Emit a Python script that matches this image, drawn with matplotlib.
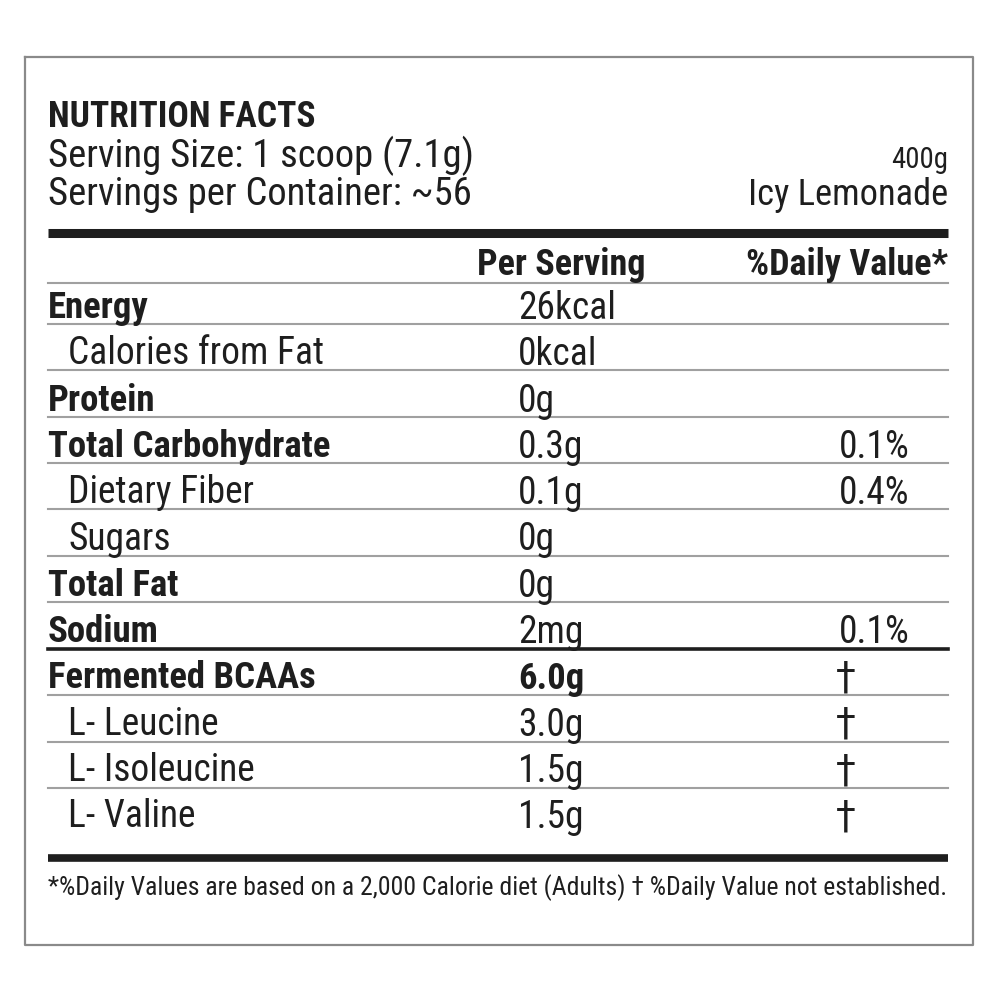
"""Nutrition facts label redrawn with matplotlib text and lines."""
import matplotlib
matplotlib.use("Agg")
import matplotlib.pyplot as plt
from matplotlib import font_manager

# --- Data ---
TITLE = "NUTRITION FACTS"
SERVING_SIZE = "Serving Size: 1 scoop (7.1g)"
SERVINGS_PER = "Servings per Container: ~56"
PACK_SIZE = "400g"
FLAVOUR = "Icy Lemonade"
COL_HEADERS = ["Per Serving", "%Daily Value*"]

nutrients = ["Energy", "Calories from Fat", "Protein", "Total Carbohydrate",
             "Dietary Fiber", "Sugars", "Total Fat", "Sodium",
             "Fermented BCAAs", "L- Leucine", "L- Isoleucine", "L- Valine"]
per_serving = ["26kcal", "0kcal", "0g", "0.3g", "0.1g", "0g", "0g", "2mg",
               "6.0g", "3.0g", "1.5g", "1.5g"]
daily_value = ["", "", "", "0.1%", "0.4%", "", "", "0.1%",
               "\u2020", "\u2020", "\u2020", "\u2020"]
is_bold = [True, False, True, True, False, False, True, True,
           True, False, False, False]
is_indent = [False, True, False, False, True, True, False, False,
             False, True, True, True]

FOOTNOTE = ("*%Daily Values are based on a 2,000 Calorie diet (Adults) "
            "\u2020 %Daily Value not established.")

# --- Font: a condensed sans if one is installed ---
fonts = font_manager.fontManager.ttflist
names = {f.name for f in fonts}
STRETCH = "normal"
if "Roboto Condensed" in names:
    FONT = "Roboto Condensed"
elif "Liberation Sans Narrow" in names:
    FONT = "Liberation Sans Narrow"
elif any(f.name == "DejaVu Sans" and f.stretch == "condensed" for f in fonts):
    FONT, STRETCH = "DejaVu Sans", "condensed"
else:
    FONT = "Roboto"
plt.rcParams["font.family"] = [FONT, "DejaVu Sans"]
plt.rcParams["font.stretch"] = STRETCH

# --- Layout (pixel coords, y down) ---
X0, X1 = 48, 948
VAL_X = 518
DV_X = 874
DAGGER_X = 846
ROW0 = 318
ROW_STEP = 46.3
DARK = "#1e1e1e"
GREY = "#a0a0a0"

fig = plt.figure(figsize=(10, 10), dpi=100)
ax = fig.add_axes([0, 0, 1, 1])
ax.set_xlim(0, 1000)
ax.set_ylim(1000, 0)
ax.axis("off")
renderer = fig.canvas.get_renderer()


def fit_size(s, width, max_size, weight="normal"):
    """Font size that makes s about `width` px wide, capped by max_size."""
    t = ax.text(0, 0, s, fontsize=20, fontweight=weight)
    w = t.get_window_extent(renderer).width
    t.remove()
    return min(20 * width / w, max_size)


# outer border
ax.plot([25, 973, 973, 25, 25], [57, 57, 945, 945, 57], color="#8a8a8a", lw=1.6)

ax.text(X0, 127, TITLE, fontsize=fit_size(TITLE, 268, 28, "bold"),
        fontweight="bold", color=DARK, va="baseline")
head_size = fit_size(SERVING_SIZE, 425, 28)
ax.text(X0, 167, SERVING_SIZE, fontsize=head_size, color=DARK, va="baseline")
ax.text(X0, 205, SERVINGS_PER, fontsize=head_size, color=DARK, va="baseline")
ax.text(X1, 168, PACK_SIZE, fontsize=fit_size(PACK_SIZE, 57, 23), color=DARK,
        va="baseline", ha="right")
ax.text(X1, 205, FLAVOUR, fontsize=fit_size(FLAVOUR, 200, 28), color=DARK,
        va="baseline", ha="right")

ax.plot([X0, X1], [233, 233], color=DARK, lw=6.5, solid_capstyle="butt")

col_size = fit_size(COL_HEADERS[1], 208, 26, "bold")
ax.text(561, 275, COL_HEADERS[0], fontsize=col_size, fontweight="bold", color=DARK,
        va="baseline", ha="center")
ax.text(X1, 275, COL_HEADERS[1], fontsize=col_size, fontweight="bold", color=DARK,
        va="baseline", ha="right")
ax.plot([X0, X1], [283, 283], color=GREY, lw=1.5)

bold_size = fit_size("Total Carbohydrate", 287, 26.5, "bold")
reg_size = fit_size("Calories from Fat", 256, 28)

for i, name in enumerate(nutrients):
    y = ROW0 + i * ROW_STEP
    weight = "bold" if is_bold[i] else "normal"
    size = bold_size if is_bold[i] else reg_size
    ax.text(X0 + (20 if is_indent[i] else 0), y, name, fontsize=size,
            fontweight=weight, color=DARK, va="baseline")
    ax.text(VAL_X, y + 1, per_serving[i], fontsize=bold_size if i == 8 else reg_size,
            fontweight="bold" if i == 8 else "normal", color=DARK, va="baseline")
    if daily_value[i] == "\u2020":
        ax.text(DAGGER_X, y + 1, daily_value[i], fontsize=reg_size * 1.05, color=DARK,
                va="baseline", ha="center", family=["DejaVu Sans"],
                fontstretch="normal")
    elif daily_value[i]:
        ax.text(DV_X, y + 1, daily_value[i], fontsize=reg_size, color=DARK,
                va="baseline", ha="center")
    if i == len(nutrients) - 1:
        continue
    if nutrients[i] == "Sodium":
        ax.plot([X0, X1], [649, 649], color=DARK, lw=2.6)
    else:
        ly = y + 6 + (1 if i > 7 else 0)
        ax.plot([X0, X1], [ly, ly], color=GREY, lw=1.5)

ax.plot([X0, X1], [858, 858], color=DARK, lw=5.5, solid_capstyle="butt")

ax.text(X0, 895, FOOTNOTE, fontsize=fit_size(FOOTNOTE, 900, 20), color=DARK,
        va="baseline")

fig.savefig("out.png", dpi=100, facecolor="white")
